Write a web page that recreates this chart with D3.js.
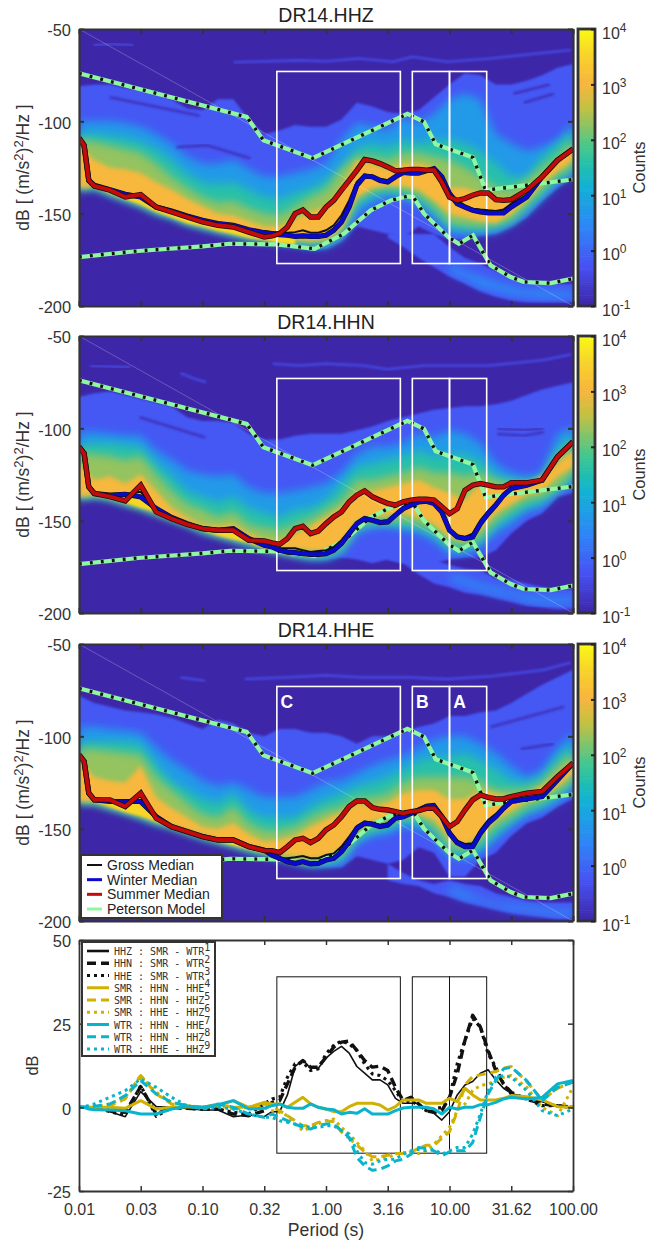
<!DOCTYPE html>
<html>
<head>
<meta charset="utf-8">
<script src="https://cdn.jsdelivr.net/npm/d3@7"></script>
<style>
body { margin: 0; background: #fff; }
text { font-family: "Liberation Sans", Arial, sans-serif; fill: #333; }
</style>
</head>
<body>
<svg id="chart"></svg>
<script>
// period grids
const heatPeriods = [.01,.0133,.0178,.0237,.0316,.0422,.0562,.075,.1,.1334,.1778,.2371,.3162,.4217,.5623,.7499,1,1.334,1.778,2.371,3.162,4.217,5.623,7.499,10,13.34,17.78,23.71,31.62,42.17,56.23,74.99,100];
const peakPeriods = [.0133,.0178,.0237,.0316,.0422,.0562,.075,.1,.1334,.1778,.2371,.3162,.4217,.5623];
const bandPeriods = [3.162,4.217,5.623,7.499,10,13.34,17.78,23.71,31.62,42.17,56.23,74.99,100];
const corePeriods = [10,13.34,17.78,23.71,31.62,42.17,56.23,74.99,100];
const medPeriods = [.01,.011,.012,.0133,.0178,.0237,.0316,.0422,.0562,.075,.1,.1334,.1778,.2371,.3162,.3652,.4217,.487,.5623,.6494,.7499,.866,1,1.155,1.334,1.54,1.778,2.054,2.371,2.738,3.162,3.652,4.217,4.87,5.623,6.494,7.499,8.66,10,11.55,13.34,15.4,17.78,20.54,23.71,27.38,31.62,42.17,56.23,74.99,100];

// log10(counts) of each nested contour and the dB it reaches above / below
const contourCounts = [-0.2, 0.75, 1.55, 2.3, 3.05];
const peakCount = 3.55;

const hhzUpper = [
 [-81,-80,-80,-82,-83,-84,-88,-93,-94,-88,-88,-99,-107,-105,-102,-103,-103,-99,-90,-92,-95,-96,-94,-87,-80,-74,-75,-80,-80,-78,-75,-71,-69],
 [-100,-100,-100,-101,-103,-107,-112,-119,-123,-123,-121,-126,-130,-130,-128,-126,-123,-110,-101,-103,-105,-98,-101,-96,-88,-85,-88,-107,-112,-116,-114,-110,-101],
 [-107,-107,-108,-109,-111,-115,-121,-128,-133,-134,-133,-137,-141,-142,-139,-136,-132,-125,-114,-112,-114,-110,-112,-110,-110,-112,-116,-123,-130,-130,-119,-112,-105],
 [-110,-111,-113,-115,-117,-123,-130,-136,-141,-144,-143,-147,-150,-151,-146,-141,-137,-126,-119,-119,-121,-117,-117,-119,-121,-125,-130,-136,-137,-132,-125,-119,-110],
 [-113,-121,-125,-126,-128,-133,-137,-142,-146,-150,-151,-154,-157,-157,-153,-149,-146,-136,-121,-123,-126,-123,-123,-125,-136,-136,-139,-141,-143,-137,-130,-121,-114]
];
const hhzLower = [
 [-137,-136,-140,-143,-146,-150,-153,-156,-158,-160,-162,-164,-165,-167,-168,-170,-169,-165,-157,-159,-161,-163,-157,-161,-164,-164,-162,-161,-157,-152,-143,-136,-130],
 [-137,-136,-140,-143,-146,-150,-152,-155,-158,-160,-162,-164,-165,-166,-167,-168,-168,-164,-150,-145,-141,-142,-145,-152,-161,-161,-161,-160,-156,-150,-142,-134,-129],
 [-137,-136,-139,-142,-145,-149,-152,-155,-157,-159,-161,-163,-164,-165,-166,-167,-167,-162,-145,-140,-138,-140,-143,-150,-157,-159,-159,-158,-155,-148,-140,-132,-127],
 [-137,-135,-139,-142,-145,-149,-151,-155,-157,-159,-161,-163,-164,-165,-165,-165,-165,-160,-143,-138,-136,-137,-140,-146,-155,-156,-157,-156,-153,-145,-137,-129,-125],
 [-136,-135,-138,-141,-144,-148,-151,-154,-156,-159,-160,-162,-164,-164,-164,-165,-164,-158,-141,-136,-135,-135,-137,-143,-150,-152,-154,-155,-150,-143,-134,-127,-121]
];
const hhnUpper = [
 [-83,-81,-80,-82,-84,-86,-88,-94,-96,-96,-97,-103,-106,-106,-104,-103,-103,-103,-101,-99,-96,-94,-92,-90,-89,-88,-88,-87,-85,-82,-79,-77,-75],
 [-102,-102,-103,-104,-104,-112,-117,-123,-125,-126,-125,-132,-135,-135,-134,-132,-130,-124,-114,-110,-110,-108,-103,-105,-101,-103,-108,-119,-124,-126,-124,-103,-99],
 [-109,-108,-108,-109,-110,-119,-126,-134,-137,-140,-137,-143,-146,-148,-144,-143,-139,-130,-121,-119,-117,-115,-112,-115,-114,-114,-117,-126,-128,-130,-128,-112,-103],
 [-113,-114,-115,-117,-115,-125,-134,-141,-144,-148,-145,-152,-154,-155,-152,-149,-144,-139,-128,-128,-126,-124,-121,-124,-124,-126,-124,-128,-130,-130,-128,-115,-108],
 [-119,-128,-126,-130,-125,-134,-143,-148,-152,-153,-152,-157,-160,-161,-157,-153,-148,-143,-135,-134,-132,-130,-128,-132,-135,-139,-130,-132,-130,-130,-126,-119,-112]
];
const hhnLower = [
 [-138,-137,-138,-141,-144,-146,-150,-153,-156,-159,-161,-163,-166,-168,-170,-171,-171,-170,-171,-173,-171,-173,-171,-173,-171,-170,-170,-166,-157,-150,-146,-137,-135],
 [-138,-137,-138,-141,-143,-146,-149,-152,-156,-158,-161,-163,-165,-167,-169,-171,-171,-168,-157,-154,-153,-155,-157,-161,-168,-168,-164,-157,-152,-145,-143,-135,-130],
 [-138,-137,-138,-141,-143,-146,-149,-152,-156,-158,-160,-163,-165,-167,-169,-170,-170,-166,-154,-152,-152,-153,-154,-158,-165,-166,-162,-153,-148,-143,-140,-134,-128],
 [-138,-136,-138,-140,-143,-146,-149,-152,-155,-158,-160,-162,-165,-167,-168,-169,-168,-164,-153,-150,-150,-150,-152,-155,-162,-163,-159,-150,-144,-139,-137,-132,-124],
 [-137,-136,-137,-140,-142,-145,-148,-151,-154,-157,-159,-161,-163,-165,-165,-166,-166,-162,-150,-148,-147,-146,-148,-152,-159,-161,-155,-146,-141,-136,-134,-126,-121]
];
const hheUpper = [
 [-78,-82,-84,-86,-87,-88,-90,-93,-96,-91,-93,-98,-100,-96,-96,-98,-98,-100,-104,-100,-100,-98,-95,-93,-89,-89,-87,-86,-82,-77,-72,-68,-64],
 [-95,-95,-96,-97,-98,-106,-113,-118,-124,-127,-125,-129,-133,-133,-133,-129,-125,-124,-120,-116,-113,-111,-106,-102,-100,-100,-104,-109,-116,-122,-118,-106,-98],
 [-103,-103,-103,-103,-104,-115,-124,-129,-134,-136,-131,-140,-144,-144,-144,-138,-134,-131,-127,-125,-122,-118,-113,-111,-111,-109,-113,-118,-124,-125,-122,-111,-104],
 [-107,-107,-108,-109,-110,-122,-129,-136,-142,-144,-138,-147,-151,-151,-149,-144,-140,-138,-133,-133,-131,-125,-122,-122,-122,-122,-124,-129,-129,-129,-125,-116,-109],
 [-113,-122,-124,-125,-116,-133,-139,-144,-149,-150,-147,-153,-157,-156,-154,-149,-145,-141,-136,-138,-136,-131,-129,-129,-134,-134,-129,-131,-133,-131,-127,-120,-113]
];
const hheLower = [
 [-136,-136,-139,-142,-144,-147,-150,-152,-155,-158,-160,-162,-164,-167,-169,-171,-171,-171,-165,-167,-169,-167,-160,-163,-176,-176,-167,-163,-154,-147,-144,-138,-134],
 [-136,-136,-139,-141,-144,-147,-149,-152,-155,-157,-159,-162,-164,-166,-168,-170,-170,-169,-158,-154,-153,-149,-150,-154,-165,-167,-163,-156,-149,-143,-140,-136,-129],
 [-136,-136,-139,-141,-144,-147,-149,-152,-155,-157,-159,-162,-164,-166,-168,-170,-169,-167,-156,-152,-150,-146,-147,-152,-163,-164,-161,-153,-146,-141,-138,-133,-125],
 [-136,-136,-138,-141,-143,-146,-149,-152,-154,-157,-159,-161,-163,-165,-167,-168,-167,-164,-153,-149,-147,-144,-144,-149,-160,-162,-157,-149,-144,-138,-135,-130,-124],
 [-135,-135,-138,-140,-143,-146,-148,-151,-153,-156,-158,-160,-162,-164,-165,-166,-165,-162,-150,-146,-144,-142,-142,-145,-155,-159,-154,-145,-140,-135,-133,-127,-120]
];

// bright ridge just under the medians
const hhzPeakTop = [-133,-137,-140,-141,-146,-148,-151,-153,-155,-156,-158,-160,-161,-161];
const hhzPeakBot = [-135,-139,-142,-145,-149,-152,-155,-157,-159,-161,-163,-164,-166,-167];
const hhnPeakTop = [-135,-136,-135,-136,-143,-148,-151,-154,-155,-154,-159,-163,-165,-167];
const hhnPeakBot = [-136,-137,-140,-143,-145,-149,-152,-155,-158,-160,-162,-165,-167,-169];
const hhePeakTop = [-134,-135,-135,-135,-143,-148,-151,-154,-156,-156,-159,-161,-165,-168];
const hhePeakBot = [-135,-138,-141,-143,-146,-149,-151,-154,-157,-159,-161,-163,-166,-168];

// low-noise band at long periods
const hhzBandTop = [-161,-161,-161,-161,-168,-174,-177,-181,-184,-186,-187,-188,-188];
const hhzBandBot = [-163,-168,-174,-179,-184,-188,-192,-195,-197,-198,-198,-198,-198];
const hhnBandTop = [-164,-164,-166,-171,-174,-176,-177,-181,-182,-184,-186,-187,-187];
const hhnBandBot = [-171,-173,-179,-184,-186,-189,-190,-192,-194,-196,-197,-198,-198];
const hheBandTop = [-169,-174,-178,-180,-178,-180,-181,-185,-187,-189,-190,-190,-190];
const hheBandBot = [-178,-180,-181,-185,-187,-190,-192,-194,-196,-197,-198,-199,-199];
const hhzCoreTop = [-177,-181,-184,-187,-189,-191,-191,-192,-192];
const hhzCoreBot = [-182,-185,-190,-192,-194,-195,-196,-196,-196];
const hhnCoreTop = [-179,-181,-184,-186,-188,-190,-191,-191,-191];
const hhnCoreBot = [-182,-185,-188,-190,-191,-194,-195,-195,-195];
const hheCoreTop = [-181,-184,-188,-190,-191,-192,-193,-194,-194];
const hheCoreBot = [-185,-188,-190,-192,-194,-195,-196,-197,-197];

// faint tracks above the model and empty streaks inside the cloud, [period, dB]
const hhzFaint = [
 [[.0131,-59],[.0178,-58],[.0275,-59]], [[.0353,-57],[.0546,-57]], [[.058,-63],[.085,-63]], [[.095,-68],[.123,-68]], [[.139,-63],[.167,-63]],
 [[.178,-68],[.6,-67],[1,-67.5],[1.85,-66],[3.47,-67.7],[5,-65],[9.6,-67.7],[21.6,-66],[40,-64],[96,-61.4]]
];
const hhnFaint = [
 [[.0123,-66],[.026,-67]], [[.028,-61],[.051,-61]], [[.066,-70],[.085,-73],[.107,-75]], [[.18,-68],[.31,-68]],
 [[.37,-65],[.6,-66],[1,-65],[2,-66],[3.16,-68],[6.3,-66],[21,-66],[58,-63],[96,-60]]
];
const hheFaint = [
 [[.0135,-66],[.0275,-66]], [[.031,-59.4],[.047,-59.4]], [[.066,-68],[.105,-70]], [[.14,-64],[.165,-64]],
 [[.22,-69],[.5,-68],[1,-67],[1.85,-68],[4.5,-68],[9.6,-69],[21.6,-67.5],[58,-64],[96,-60]]
];
const hhzStreaks = [ [[.0178,-87],[.095,-97]], [[.0616,-114],[.108,-113],[.243,-120]], [[33,-85],[65,-80]], [[40,-90],[70,-85]] ];
const hhnStreaks = [ [[.031,-94],[.105,-105]], [[24.4,-100],[40,-101],[58,-100]], [[24.4,-103],[40,-104],[58,-102]] ];
const hheStreaks = [ [[21.5,-95],[84.5,-84]], [[37.7,-107],[70,-104]] ];

// Peterson noise models
const nhnmPeriods = [.01,.228,.311,.78,4.56,6.22,7.73,15.5,19.6,100];
const nhnmDb = [-74,-97.6,-110.2,-120,-96,-100.3,-112.4,-119.6,-137.3,-131.5];
const nlnmPeriods = [.01,.03,.1,.167,.4,.81,1.4,2.3,3.34,4.56,5.09,6.22,9.9,11.9,15.5,21.5,31.3,40,66,100];
const nlnmDb = [-173.5,-170.2,-167.7,-166.3,-166.6,-169,-160.8,-148.2,-142.8,-140.6,-141,-150,-163,-166.3,-161.7,-178,-184.3,-187,-187.6,-185.2];

// seasonal medians (dB)
const hhzGross = [-109,-113,-132,-134.6,-137,-139.5,-140.5,-146.4,-148.5,-151.2,-153.6,-155.4,-156.3,-158.7,-159.5,-160,-160,-160.3,-160,-159,-160.3,-160.3,-159,-156.3,-150.9,-142.8,-132.8,-128.7,-129.7,-131.5,-131.9,-129.2,-126.8,-126.5,-126.5,-126,-125.6,-130,-138.2,-142.8,-145.5,-147.3,-147.8,-148.2,-148.5,-147.8,-144.6,-140,-130,-121,-115];
const hhzWinter = [-109,-113,-132,-134.6,-137,-139.5,-141,-146.4,-148.5,-151.2,-153.6,-155.4,-156.3,-158.7,-160.3,-160.8,-161.4,-161.7,-162.3,-162,-162.3,-162.3,-161.7,-159,-154.5,-146.4,-134.6,-129.7,-130,-132,-132.8,-130,-127.7,-128,-128,-126.8,-125.6,-130,-139.1,-144.6,-146.4,-148.2,-149,-149.6,-149.6,-149.6,-146.4,-141,-130,-121,-115];
const hhzSummer = [-109,-113,-132,-135,-137.3,-141,-139.7,-146.4,-149,-151.8,-154.5,-156.3,-157.2,-160,-162.6,-162,-160.8,-157.2,-150,-148,-151.8,-151.8,-146.4,-142.8,-137.3,-132,-126.5,-120.7,-121.4,-122.9,-124.7,-126.8,-126.5,-126,-126,-126.5,-126.5,-132.8,-141,-142.8,-141.8,-140,-138.8,-138.8,-142.4,-142.8,-142.4,-137.3,-130,-121,-115];
const hhnGross = [-110,-113.6,-131.7,-135.3,-136.2,-135.7,-134.4,-143.4,-148.3,-151.6,-154.3,-155.2,-154.3,-159.7,-163.3,-164,-165,-165,-165,-166,-167,-166.4,-166,-164.2,-160.6,-155.6,-150.7,-148,-149.2,-150.3,-149.8,-146.2,-142.5,-140.7,-139.3,-138.9,-140.2,-144.4,-154.3,-157.9,-158.8,-157,-149.8,-144.7,-140.4,-135.3,-131.7,-130.3,-128,-115.4,-107.3];
const hhnWinter = [-110,-113.6,-131.7,-135.3,-136.2,-135.7,-137.1,-143.4,-148.3,-151.6,-154.3,-155.2,-154.3,-159.7,-163.3,-164.2,-166,-167,-167.3,-167.9,-168.2,-168.2,-167.9,-166,-162.4,-157,-151.6,-148.9,-149.8,-151,-150.7,-147,-143.5,-141.6,-139.8,-139.5,-140.7,-145.3,-155.2,-158.8,-159.7,-158.8,-151.6,-146.2,-141.6,-136.2,-132.6,-130.8,-128,-115.4,-107.3];
const hhnSummer = [-110,-113.6,-131.7,-135.3,-137,-139.3,-130.8,-145.3,-148.9,-152,-154.3,-155.2,-155.2,-160.6,-161,-162,-162.8,-159.7,-154.3,-153,-157,-155.6,-151.6,-148,-145.3,-139.8,-136.2,-133.9,-137,-138.9,-140.7,-141.6,-139.8,-138.9,-138.4,-138.4,-138.9,-142.5,-146.2,-143.5,-133.5,-130.8,-129.9,-130.8,-131.7,-131.7,-129.5,-129.5,-128,-115.4,-107.3];
const hheGross = [-110,-113.6,-130.8,-134.4,-135.3,-135.3,-132.6,-143.5,-148.9,-151.6,-154.3,-156.1,-156.1,-159.7,-161.6,-164.3,-166,-166,-165.5,-164.8,-166,-166,-164.3,-163.4,-159.7,-154.3,-148.5,-146.2,-146.7,-148,-147.1,-143.5,-142.6,-140.8,-139,-137.1,-136.6,-142.6,-151,-156.5,-158.3,-157.9,-150.7,-145.3,-142,-137.7,-134.4,-133,-132.3,-123.2,-114.5];
const hheWinter = [-110,-113.6,-130.8,-134.4,-135.3,-135.3,-135.3,-143.5,-148.9,-151.6,-154.3,-156.1,-156.1,-159.7,-161.6,-164.3,-166.1,-167.9,-168.8,-167.9,-169.1,-168.8,-167,-166.1,-162.5,-157,-149.8,-147.1,-147.6,-148.9,-148,-144.4,-143.5,-141.7,-139.9,-138,-137.7,-143.5,-152.5,-157.6,-159.7,-159.7,-152.5,-147.1,-143.5,-139,-135.3,-133.9,-132.6,-123.6,-114.5];
const hheSummer = [-110,-113.6,-130.8,-134.4,-134.4,-138,-130.8,-144.4,-148.9,-151.6,-154.3,-156.1,-156.1,-159.7,-161.9,-161.9,-163,-159.7,-156.1,-155.2,-157.6,-155.2,-150.7,-148,-143.5,-138,-135,-135,-138.6,-139.5,-139.9,-140.8,-141.7,-140.8,-140.2,-139,-139,-143.5,-148.9,-146.2,-139.9,-134.4,-131.7,-133,-133.9,-133.9,-132.6,-130.8,-129.9,-121.8,-114.5];

// median differences (dB), bottom panel
const diffHhzSW = [0,0,0,0,-1.3,-2.8,4.7,.2,0,-.3,-.8,-.8,-2.8,-2.3,-2.8,-1.3,-1.3,3.7,12.2,14.2,11.7,11.7,14.7,16.7,18.2,16.2,12.2,10.2,8.2,8.2,6.7,2.7,1.2,1.2,1.2,-.8,-1.8,-3.8,-1.3,3.7,6.7,7.7,10.2,11.2,8.2,5.7,4.2,2.7,1.7,.2,0];
const diffHhnSW = [0,0,0,0,-1,-1.5,6.2,-2,0,-.3,-.5,-.5,-2,-2.5,-1,1.5,2,7,12,14,12,12,15,18,19.5,19.8,17,14,12,12.3,11,6,2,3,1,-1,-1.5,-1,3,10,20,27.5,24,17,11,7,4.5,2.5,1,.5,0];
const diffHheSW = [0,0,0,0,-1.3,-2.3,6.5,-2.7,0,-.3,-.5,-.5,-1.5,-2,1,2.5,3,9,13,13.5,11,11.5,16,18.5,19.8,19,17,13,10,9.5,8,5,1.5,2,.5,-1,-.5,0,3,13,20,26.5,24,16,12,7,4,2.5,.5,.5,0];
const diffSmrNE = [0,0,0,0,0,-.3,2,-.5,0,.2,0,.5,2,0,1.5,1,1,0,1.5,3,1,0,-.5,-1.3,-1.3,.2,1.2,1.2,1.2,.7,-.8,.2,2.2,2.2,2.2,1.2,1.2,1.2,2.7,1.7,5.7,3.7,2.2,2.2,2.2,2.7,3.5,3.2,2.2,.2,0];
const diffSmrNZ = [0,0,0,0,.5,2.5,9.5,4,1,.5,0,1,0,0,1,0,-1,-2.5,-4,-5.5,-5.5,-4.5,-4,-4.3,-7.3,-9.3,-11.3,-13.3,-14.8,-14.8,-14.3,-13.8,-13.8,-13.3,-12.3,-11.3,-11.3,-9.3,-7.3,-1.3,6.7,9.2,9.7,10.2,10.7,11.7,12.2,7.7,2.2,5.7,7.7];
const diffSmrEZ = [0,0,0,0,1,3,9.5,4.5,1.5,.5,0,.5,-.5,0,0,-1,-1.5,-2.5,-5,-7,-6,-5,-4,-3.5,-6,-8,-10.5,-13,-16,-15.5,-15,-14,-13.5,-13.5,-13.8,-13,-11,-8.5,-6,-1,1,5,6.5,7,8,9,9.5,6,0,-2.5,6];
const diffWtrNE = [0,0,-.5,-.7,-.8,-1,-2,-2,-.5,.3,0,.8,2,-.5,-.3,.5,1,0,-.3,-.3,1,0,-.5,-.7,-2,-1.5,-1.8,-.4,-2,-2,-2,-1,-.2,0,0,0,-.5,-2,0,-.5,0,0,.8,.8,1.5,2.5,3,2.5,3,7,8];
const diffWtrNZ = [0,0,0,.3,1,3.5,8,4,1.5,.5,-.5,1,0,-2,-3,-2,-3,-4,-5,-6,-6.5,-5.5,-5,-5,-7,-9,-15,-17.5,-18.8,-18.5,-17.5,-16,-15.5,-14,-12,-12.3,-13,-14.5,-13.3,-13,-13,-10.5,-3,4,8,11.5,12,8,2,6,7.5];
const diffWtrEZ = [0,.3,.5,1,3,5,8.5,6,3,.5,-.5,0,-.5,-2,-3,-3,-4,-4.5,-5,-5.5,-6,-6,-5.5,-5.5,-7,-8,-13,-16.5,-17,-16,-15.5,-15.5,-14,-13,-12.5,-13,-12.5,-14,-13,-12,-12,-8,-2,5,9,9.5,9,5,-1,-2.5,-.5];

const xTicks = [.01,.0316,.1,.3162,1,3.162,10,31.62,100];
const xTickLabels = ["0.01","0.03","0.10","0.32","1.00","3.16","10.00","31.62","100.00"];
const dbTicks = [-50,-100,-150,-200];
const diffTicks = [50,25,0,-25];
const countTicks = [.1,1,10,100,1000,10000];
const countExps = ["-1","0","1","2","3","4"];
// period / dB limits of the regions
const boxSpans = [[.4,4],[5,10],[10,20]];
const boxDb = [-73,-177];
const boxDiff = [-13.7,39];
const boxNames = ["C","B","A"];

const stationPanels = [
 {title:"DR14.HHZ", upper:hhzUpper, lower:hhzLower, peakTop:hhzPeakTop, peakBot:hhzPeakBot, bandTop:hhzBandTop, bandBot:hhzBandBot, coreTop:hhzCoreTop, coreBot:hhzCoreBot, faint:hhzFaint, streaks:hhzStreaks, gross:hhzGross, winter:hhzWinter, summer:hhzSummer},
 {title:"DR14.HHN", upper:hhnUpper, lower:hhnLower, peakTop:hhnPeakTop, peakBot:hhnPeakBot, bandTop:hhnBandTop, bandBot:hhnBandBot, coreTop:hhnCoreTop, coreBot:hhnCoreBot, faint:hhnFaint, streaks:hhnStreaks, gross:hhnGross, winter:hhnWinter, summer:hhnSummer},
 {title:"DR14.HHE", upper:hheUpper, lower:hheLower, peakTop:hhePeakTop, peakBot:hhePeakBot, bandTop:hheBandTop, bandBot:hheBandBot, coreTop:hheCoreTop, coreBot:hheCoreBot, faint:hheFaint, streaks:hheStreaks, gross:hheGross, winter:hheWinter, summer:hheSummer}
];

const width = 648, height = 1245;
const left = 79, right = 573;
const panelTops = [29, 336, 644];
const panelH = 277;
const frame = "#333";

const svg = d3.select("#chart").attr("width", width).attr("height", height).style("display", "block");
const defs = svg.append("defs");
[[.8,"b0"],[4,"b1"],[4.5,"b2"],[4,"b3"],[2.2,"b4"]].forEach(([s, id]) => {
    defs.append("filter").attr("id", id).attr("x", "-10%").attr("y", "-10%").attr("width", "120%").attr("height", "120%")
        .append("feGaussianBlur").attr("stdDeviation", s);
});

const x = d3.scaleLog().domain([.01, 100]).range([left, right]);

// parula, as it looks in the colorbar
const parula = d3.scaleLinear()
    .domain([0, .143, .286, .4286, .5, .57, .714, .8, .9, 1])
    .range(["#3e26a8","#4752f4","#2d87f7","#12b1d6","#20bfb0","#45c78e","#c4c142","#f7b53e","#f8d22a","#f9fb14"]);
const countColor = c => parula((c + 1) / 5);

function frameAxes(g, y, yTicks, top, h, labelled) {
    const bottom = top + h;
    g.append("g").attr("transform", `translate(0,${bottom})`)
        .call(d3.axisBottom(x).tickValues(xTicks).tickSizeInner(-5).tickSizeOuter(0).tickFormat((d, i) => labelled ? xTickLabels[i] : ""));
    g.append("g").attr("transform", `translate(0,${top})`)
        .call(d3.axisTop(x).tickValues(xTicks).tickSizeInner(-5).tickSizeOuter(0).tickFormat(""));
    const yAxis = g.append("g").attr("transform", `translate(${left},0)`)
        .call(d3.axisLeft(y).tickValues(yTicks).tickSizeInner(-5).tickSizeOuter(0).tickFormat(d => String(d)));
    g.append("g").attr("transform", `translate(${right},0)`)
        .call(d3.axisRight(y).tickValues(yTicks).tickSizeInner(-5).tickSizeOuter(0).tickFormat(""));
    g.selectAll(".domain, .tick line").attr("stroke", frame);
    g.selectAll(".tick text").attr("fill", frame).style("font-size", "16px")
        .style("font-family", '"Liberation Sans", Arial, sans-serif');
    yAxis.selectAll(".tick text").attr("x", -8).attr("dy", ".42em").style("font-size", "16.4px");
}

stationPanels.forEach((p, k) => {
    const top = panelTops[k];
    const y = d3.scaleLinear().domain([-50, -200]).range([top, top + panelH]);
    const g = svg.append("g");
    const clipId = "clip" + k;
    defs.append("clipPath").attr("id", clipId).append("rect")
        .attr("x", left).attr("y", top).attr("width", right - left).attr("height", panelH);

    const plot = g.append("g").attr("clip-path", `url(#${clipId})`);
    plot.append("rect").attr("x", left).attr("y", top).attr("width", right - left).attr("height", panelH).attr("fill", countColor(-1));

    const bandArea = (ps, tops, bots) => d3.area().x((d, i) => x(ps[i])).y0((d, i) => y(bots[i])).y1(d => y(d))(tops);
    const lineGen = d3.line().x(d => x(d[0])).y(d => y(d[1]));

    // faint tracks
    p.faint.forEach(seg => {
        plot.append("path").attr("d", lineGen(seg)).attr("fill", "none").attr("stroke", "#4752f4").attr("stroke-width", 2.6).attr("opacity", .75).attr("filter", "url(#b0)");
    });
    // long period band
    plot.append("path").attr("d", bandArea(bandPeriods, p.bandTop, p.bandBot)).attr("fill", countColor(-.2)).attr("filter", "url(#b0)");
    plot.append("path").attr("d", bandArea(corePeriods, p.coreTop, p.coreBot)).attr("fill", countColor(.5)).attr("filter", "url(#b1)");

    // nested count contours
    contourCounts.forEach((c, i) => {
        plot.append("path").attr("d", bandArea(heatPeriods, p.upper[i], p.lower[i]))
            .attr("fill", countColor(c)).attr("filter", `url(#b${i})`);
    });
    plot.append("path").attr("d", bandArea(peakPeriods, p.peakTop, p.peakBot)).attr("fill", countColor(peakCount)).attr("filter", "url(#b0)");
    p.streaks.forEach(seg => {
        plot.append("path").attr("d", lineGen(seg)).attr("fill", "none").attr("stroke", countColor(-1)).attr("stroke-width", 2.6).attr("opacity", .75).attr("filter", "url(#b0)");
    });

    // thin diagonal
    plot.append("path").attr("d", lineGen([[.01, -50], [100, -200]])).attr("stroke", "#fff").attr("stroke-width", .6).attr("opacity", .4).attr("fill", "none");

    // Peterson models
    [[nhnmPeriods, nhnmDb], [nlnmPeriods, nlnmDb]].forEach(([ps, ds]) => {
        const d = lineGen(ps.map((q, i) => [q, ds[i]]));
        plot.append("path").attr("d", d).attr("fill", "none").attr("stroke", "#8ff79f").attr("stroke-width", 4.2);
        plot.append("path").attr("d", d).attr("fill", "none").attr("stroke", "#111").attr("stroke-width", 3.4).attr("stroke-dasharray", "2.8,8.2");
    });

    // boxes
    boxSpans.forEach(s => {
        plot.append("rect").attr("x", x(s[0])).attr("width", x(s[1]) - x(s[0]))
            .attr("y", y(boxDb[0])).attr("height", y(boxDb[1]) - y(boxDb[0]))
            .attr("fill", "none").attr("stroke", "#fff").attr("stroke-width", 1.6);
    });

    // medians
    const medLine = d3.line().x((d, i) => x(medPeriods[i])).y(d => y(d));
    plot.append("path").attr("d", medLine(p.gross)).attr("fill", "none").attr("stroke", "#111").attr("stroke-width", 2);
    plot.append("path").attr("d", medLine(p.winter)).attr("fill", "none").attr("stroke", "#111").attr("stroke-width", 5.2);
    plot.append("path").attr("d", medLine(p.winter)).attr("fill", "none").attr("stroke", "#0a0acb").attr("stroke-width", 4.1);
    plot.append("path").attr("d", medLine(p.summer)).attr("fill", "none").attr("stroke", "#111").attr("stroke-width", 5.4);
    plot.append("path").attr("d", medLine(p.summer)).attr("fill", "none").attr("stroke", "#c40a0a").attr("stroke-width", 3.9);

    frameAxes(g, y, dbTicks, top, panelH, false);
    g.selectAll(".domain").attr("stroke-width", 2.2);
    g.selectAll(".tick line").attr("stroke-width", 2);

    g.append("text").attr("x", (left + right) / 2).attr("y", top - 7).attr("text-anchor", "middle")
        .style("font-size", "19.5px").style("fill", "#222").text(p.title);

    // y label
    const yl = g.append("text").attr("transform", `translate(29,${top + panelH / 2}) rotate(-90)`).attr("text-anchor", "middle").style("font-size", "17.5px");
    yl.append("tspan").text("dB [ (m/s");
    yl.append("tspan").attr("dy", -6).style("font-size", "13px").text("2");
    yl.append("tspan").attr("dy", 6).text(")");
    yl.append("tspan").attr("dy", -6).style("font-size", "13px").text("2");
    yl.append("tspan").attr("dy", 6).text("/Hz ]");

    // colorbar
    const cbX = 578, cbW = 17;
    const cy = d3.scaleLog().domain([.1, 10000]).range([top + panelH, top]);
    const cells = d3.range(0, 1, 1 / 128);
    g.append("g").selectAll("rect").data(cells).enter().append("rect")
        .attr("x", cbX).attr("width", cbW)
        .attr("y", d => top + panelH * (1 - d - 1 / 128)).attr("height", panelH / 128 + .6)
        .attr("fill", d => parula(d));
    g.append("rect").attr("x", cbX).attr("y", top).attr("width", cbW).attr("height", panelH)
        .attr("fill", "none").attr("stroke", frame).attr("stroke-width", 2.8);
    g.append("g").attr("transform", `translate(${cbX + cbW},0)`)
        .call(d3.axisRight(cy).tickValues(countTicks).tickSize(-4).tickFormat(""))
        .call(s => s.select(".domain").remove())
        .selectAll("line").attr("stroke", "#222").attr("stroke-width", 2);
    countTicks.forEach((c, i) => {
        const t = g.append("text").attr("x", 602).attr("y", cy(c) + 9.5).style("font-size", "16px");
        t.append("tspan").text("10");
        t.append("tspan").attr("dy", -7).style("font-size", "12px").text(countExps[i]);
    });
    g.append("text").attr("transform", `translate(645,${top + panelH / 2}) rotate(-90)`).attr("text-anchor", "middle").style("font-size", "16.4px").text("Counts");

    if (k === 2) {
        boxSpans.forEach((s, i) => {
            g.append("text").attr("x", x(s[0]) + 10).attr("y", top + 64).attr("text-anchor", "middle")
                .style("font-size", "17.5px").style("font-weight", "bold").style("fill", "#fff").text(boxNames[i]);
        });
        const legendRows = [
            ["Gross Median", "#111", 2],
            ["Winter Median", "#0a0acb", 3],
            ["Summer Median", "#c40a0a", 3],
            ["Peterson Model", "#8ff79f", 3]
        ];
        const lg = g.append("g");
        lg.append("rect").attr("x", 81).attr("y", 855).attr("width", 141).attr("height", 63).attr("fill", "#fff").attr("stroke", frame).attr("stroke-width", 2);
        const ry = d3.scaleLinear().domain([0, 3]).range([865, 909]);
        legendRows.forEach((r, i) => {
            lg.append("line").attr("x1", 87).attr("x2", 102).attr("y1", ry(i)).attr("y2", ry(i)).attr("stroke", r[1]).attr("stroke-width", r[2]);
            lg.append("text").attr("x", 107).attr("y", ry(i) + 5).style("font-size", "14px").style("fill", "#222").text(r[0]);
        });
    }
});

// bottom panel
const top4 = 940, h4 = 251;
const y4 = d3.scaleLinear().domain([50, -25]).range([top4, top4 + h4]);
const g4 = svg.append("g");
defs.append("clipPath").attr("id", "clip4").append("rect").attr("x", left).attr("y", top4).attr("width", right - left).attr("height", h4);
const plot4 = g4.append("g").attr("clip-path", "url(#clip4)");
boxSpans.forEach(s => {
    plot4.append("rect").attr("x", x(s[0])).attr("width", x(s[1]) - x(s[0]))
        .attr("y", y4(boxDiff[1])).attr("height", y4(boxDiff[0]) - y4(boxDiff[1]))
        .attr("fill", "none").attr("stroke", "#111").attr("stroke-width", 1);
});
const gold = "#d0b000", teal = "#08b4cc";
const diffRows = [
    [diffHhzSW, "#111", 1.6, null, "HHZ : SMR - WTR", 2.6],
    [diffHhnSW, "#111", 3.4, "9,5", "HHN : SMR - WTR", 3.4],
    [diffHheSW, "#111", 3.2, "3,4", "HHE : SMR - WTR", 3.2],
    [diffSmrNE, gold, 3, null, "SMR : HHN - HHE", 3],
    [diffSmrNZ, gold, 3, "9,5", "SMR : HHN - HHZ", 3],
    [diffSmrEZ, gold, 3, "3,4", "SMR : HHE - HHZ", 3],
    [diffWtrNE, teal, 3, null, "WTR : HHN - HHE", 3],
    [diffWtrNZ, teal, 3, "9,5", "WTR : HHN - HHZ", 3],
    [diffWtrEZ, teal, 3, "3,4", "WTR : HHE - HHZ", 3]
];
const diffLine = d3.line().x((d, i) => x(medPeriods[i])).y(d => y4(d));
diffRows.forEach(r => {
    plot4.append("path").attr("d", diffLine(r[0])).attr("fill", "none").attr("stroke", r[1]).attr("stroke-width", r[2])
        .attr("stroke-dasharray", r[3]).attr("stroke-linejoin", "round");
});
frameAxes(g4, y4, diffTicks, top4, h4, true);
g4.selectAll(".domain").attr("stroke-width", 1.8);
g4.selectAll(".tick line").attr("stroke-width", 1.5);
g4.selectAll(".tick text").filter(function () { return +d3.select(this).attr("y") > 0; }).attr("y", 13);
g4.append("text").attr("x", (left + right) / 2).attr("y", 1236).attr("text-anchor", "middle").style("font-size", "17.6px").text("Period (s)");
g4.append("text").attr("transform", `translate(38,${top4 + h4 / 2}) rotate(-90)`).attr("text-anchor", "middle").style("font-size", "16.4px").text("dB");

const lg4 = g4.append("g");
lg4.append("rect").attr("x", 82).attr("y", 942).attr("width", 133).attr("height", 114).attr("fill", "#fff").attr("stroke", frame).attr("stroke-width", 2);
const ry4 = d3.scaleLinear().domain([0, 8]).range([951, 1049]);
diffRows.forEach((r, i) => {
    lg4.append("line").attr("x1", 87).attr("x2", 109).attr("y1", ry4(i)).attr("y2", ry4(i))
        .attr("stroke", r[1]).attr("stroke-width", r[5]).attr("stroke-dasharray", r[3]);
    const t = lg4.append("text").attr("x", 114).attr("y", ry4(i) + 4).style("font-family", '"DejaVu Sans Mono", monospace').style("font-size", "10px").style("fill", "#333");
    t.append("tspan").text(r[4]);
    t.append("tspan").attr("dy", -4.5).style("font-size", "10px").text(i + 1);
});
</script>
</body>
</html>
